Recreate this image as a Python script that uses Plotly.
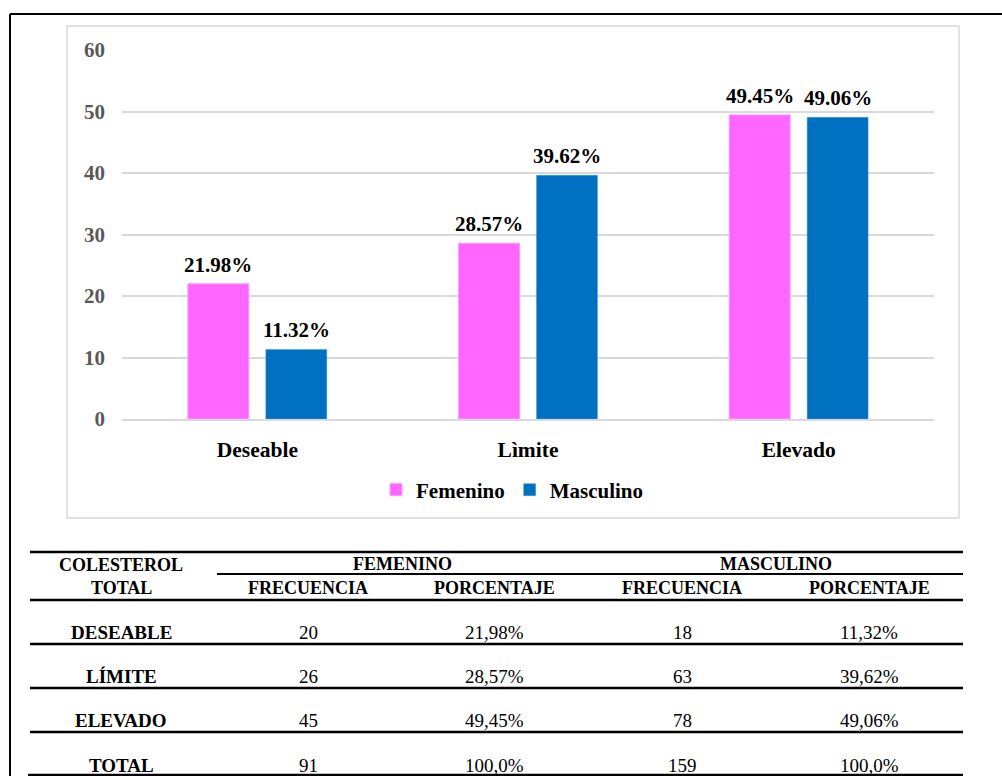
import plotly.graph_objects as go

# Chart data
categorias = ["Deseable", "Lìmite", "Elevado"]
femenino = [21.98, 28.57, 49.45]
masculino = [11.32, 39.62, 49.06]
y_ticks = [0, 10, 20, 30, 40, 50, 60]

# Table data
tabla_filas = ["DESEABLE", "LÍMITE", "ELEVADO", "TOTAL"]
fem_frecuencia = [20, 26, 45, 91]
fem_porcentaje = ["21,98%", "28,57%", "49,45%", "100,0%"]
mas_frecuencia = [18, 63, 78, 159]
mas_porcentaje = ["11,32%", "39,62%", "49,06%", "100,0%"]

W, H = 1002, 776
SERIF = "Liberation Serif"
PINK = "#FF66FF"
BLUE = "#0070C0"
GRID = "#D9D9D9"


def px(x):
    return x / W


def py(y):
    return 1 - y / H


fig = go.Figure()
fig.add_trace(go.Bar(name="Femenino", x=categorias, y=femenino,
                     marker=dict(color=PINK, line=dict(color="#FF99FF", width=1))))
fig.add_trace(go.Bar(name="Masculino", x=categorias, y=masculino,
                     marker=dict(color=BLUE, line=dict(color="#4A9AD6", width=0.5))))

annotations = []
# value labels above each bar
for serie, shift in ((femenino, -39), (masculino, 39)):
    for cat, v in zip(categorias, serie):
        annotations.append(dict(
            x=cat, y=v, xref="x", yref="y", xshift=shift, yshift=5,
            yanchor="bottom", showarrow=False, text=f"{v:.2f}%",
            font=dict(family=SERIF, size=21, color="#000000", weight="bold")))

shapes = []
# outer frame
shapes.append(dict(type="line", xref="paper", yref="paper", x0=px(10), x1=px(1002),
                   y0=py(14), y1=py(14), line=dict(color="#000000", width=2)))
shapes.append(dict(type="line", xref="paper", yref="paper", x0=px(10), x1=px(10),
                   y0=py(14), y1=py(776), line=dict(color="#000000", width=2)))
# chart box
shapes.append(dict(type="rect", xref="paper", yref="paper", x0=px(67), x1=px(959),
                   y0=py(26), y1=py(518), line=dict(color=GRID, width=1.5)))

# table rules
def hline(y, x0, x1, w=2):
    shapes.append(dict(type="line", xref="paper", yref="paper", x0=px(x0), x1=px(x1),
                       y0=py(y), y1=py(y), line=dict(color="#000000", width=w)))

hline(552, 30, 963, 2.5)
hline(574, 217, 963, 2)
hline(600, 30, 963, 2.5)
for y in (644, 688, 732):
    hline(y, 30, 963, 2.5)
hline(775, 28, 963, 2.5)


def txt(x, y, s, bold=True, size=18):
    annotations.append(dict(x=px(x), y=py(y), xref="paper", yref="paper",
                            xanchor="center", yanchor="middle", showarrow=False, text=s,
                            font=dict(family=SERIF, size=size, color="#000000",
                                      weight="bold" if bold else "normal")))

col_c = [121, 308, 494, 682, 869]
txt(col_c[0], 565, "COLESTEROL", size=18)
txt(col_c[0], 588, "TOTAL", size=18)
txt(402, 564, "FEMENINO", size=18)
txt(776, 564, "MASCULINO", size=18)
for c, lab in zip(col_c[1:], ["FRECUENCIA", "PORCENTAJE", "FRECUENCIA", "PORCENTAJE"]):
    txt(c, 588, lab, size=18)

row_y = [632, 676, 720, 765]
for i, y in enumerate(row_y):
    txt(col_c[0], y, tabla_filas[i], size=19)
    txt(col_c[1], y, str(fem_frecuencia[i]), bold=False, size=19)
    txt(col_c[2], y, fem_porcentaje[i], bold=False, size=19)
    txt(col_c[3], y, str(mas_frecuencia[i]), bold=False, size=19)
    txt(col_c[4], y, mas_porcentaje[i], bold=False, size=19)

fig.update_layout(
    width=W, height=H, autosize=False,
    margin=dict(l=0, r=0, t=0, b=0, pad=0),
    paper_bgcolor="#FFFFFF", plot_bgcolor="#FFFFFF",
    barmode="group", bargap=0.424, bargroupgap=0.218,
    showlegend=True,
    legend=dict(orientation="h", x=px(512), y=py(490), xanchor="center", yanchor="middle",
                font=dict(family=SERIF, size=21, color="#000000", weight="bold"),
                bgcolor="rgba(0,0,0,0)", itemclick=False, itemwidth=30),
    xaxis=dict(domain=[px(122), px(934)], showgrid=False, showline=True,
               linecolor=GRID, linewidth=1.5, ticks="", ticklabelstandoff=10,
               automargin=False,
               tickfont=dict(family=SERIF, size=21.5, color="#000000", weight="bold"),
               fixedrange=True),
    yaxis=dict(domain=[py(419), py(50)], range=[0, 60], tickvals=y_ticks,
               showgrid=True, gridcolor=GRID, gridwidth=1.5, zeroline=False,
               showline=False, ticks="", ticklabelstandoff=16, automargin=False,
               tickfont=dict(family=SERIF, size=21, color="#595959", weight="bold"),
               fixedrange=True),
    shapes=shapes,
    annotations=annotations,
)

fig.write_html("out.html")
